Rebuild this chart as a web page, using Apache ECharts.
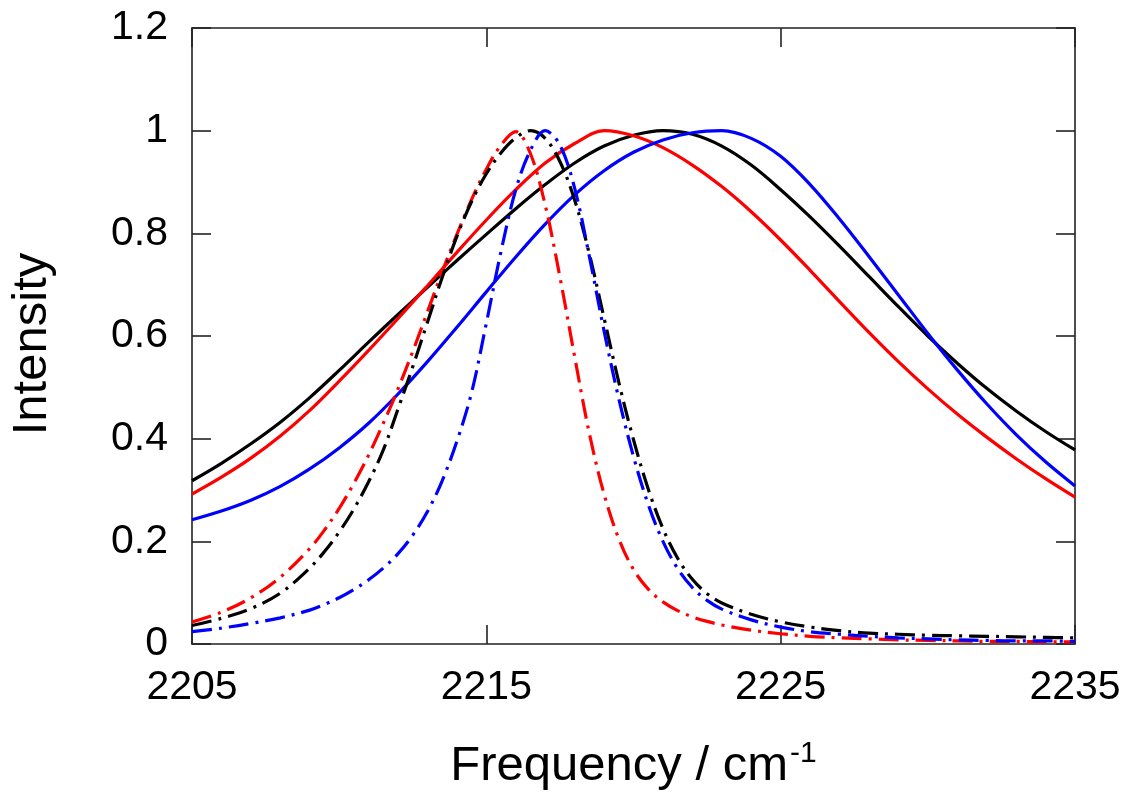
<!DOCTYPE html>
<html>
<head>
<meta charset="utf-8">
<script src="https://cdn.jsdelivr.net/npm/echarts@6/dist/echarts.min.js"></script>
<style>
  html, body { margin: 0; padding: 0; background: #fff; }
  #chart { width: 1133px; height: 792px; }
</style>
</head>
<body>
<div id="chart"></div>
<script>
// frequency grid for the broad (solid) bands
const xSolid = [2205, 2206, 2207, 2208, 2209, 2210, 2211, 2212, 2213, 2214, 2215,
  2216, 2217, 2218, 2219, 2220, 2221, 2222, 2223, 2224, 2225,
  2226, 2227, 2228, 2229, 2230, 2231, 2232, 2233, 2234, 2235]

const blackSolid = [0.318, 0.352, 0.390, 0.432, 0.480, 0.533, 0.588, 0.642, 0.695, 0.747, 0.798,
  0.848, 0.895, 0.937, 0.970, 0.991, 1.000, 0.993, 0.970, 0.933, 0.885,
  0.832, 0.775, 0.716, 0.657, 0.600, 0.547, 0.498, 0.454, 0.414, 0.378]
const redSolid = [0.292, 0.325, 0.362, 0.405, 0.455, 0.512, 0.572, 0.634, 0.698, 0.763, 0.826,
  0.885, 0.937, 0.975, 1.000, 0.990, 0.967, 0.933, 0.891, 0.842, 0.787,
  0.728, 0.667, 0.607, 0.550, 0.497, 0.448, 0.403, 0.361, 0.322, 0.286]
const blueSolid = [0.242, 0.259, 0.280, 0.307, 0.341, 0.382, 0.430, 0.487, 0.550, 0.617, 0.686,
  0.754, 0.818, 0.875, 0.922, 0.958, 0.982, 0.996, 1.000, 0.985, 0.950,
  0.895, 0.828, 0.755, 0.680, 0.605, 0.534, 0.468, 0.408, 0.355, 0.308]

// finer grid for the narrow (dash-dot) bands
const xDash = [2205, 2206, 2207, 2208, 2209, 2209.5, 2210, 2210.5, 2211, 2211.5, 2212, 2212.5,
  2213, 2213.5, 2214, 2214.5, 2215, 2215.5, 2216, 2216.5, 2217, 2217.5, 2218, 2218.5,
  2219, 2219.5, 2220, 2220.5, 2221, 2221.5, 2222, 2222.5, 2223, 2224, 2225, 2226,
  2227, 2228, 2229, 2230, 2231, 2232, 2233, 2234, 2235]

const redDash = [0.043, 0.062, 0.090, 0.130, 0.186, 0.222, 0.264, 0.313, 0.368, 0.430, 0.497, 0.570,
  0.647, 0.725, 0.798, 0.866, 0.925, 0.972, 0.998, 0.955, 0.855, 0.715, 0.560, 0.410,
  0.292, 0.205, 0.145, 0.107, 0.082, 0.065, 0.053, 0.044, 0.037, 0.027, 0.020, 0.015,
  0.012, 0.010, 0.008, 0.007, 0.006, 0.005, 0.005, 0.004, 0.004]
const blackDash = [0.036, 0.050, 0.069, 0.099, 0.148, 0.180, 0.218, 0.263, 0.316, 0.378, 0.458, 0.540,
  0.627, 0.714, 0.794, 0.862, 0.916, 0.957, 0.986, 1.000, 0.985, 0.940, 0.865, 0.760,
  0.635, 0.510, 0.398, 0.302, 0.225, 0.167, 0.126, 0.098, 0.080, 0.058, 0.043, 0.033,
  0.026, 0.021, 0.019, 0.017, 0.016, 0.015, 0.014, 0.013, 0.012]
const blueDash = [0.024, 0.031, 0.040, 0.051, 0.066, 0.077, 0.090, 0.106, 0.125, 0.148, 0.176, 0.212,
  0.258, 0.318, 0.395, 0.490, 0.625, 0.765, 0.885, 0.962, 1.000, 0.972, 0.888, 0.755,
  0.610, 0.478, 0.365, 0.272, 0.200, 0.147, 0.110, 0.085, 0.068, 0.047, 0.033, 0.024,
  0.019, 0.015, 0.012, 0.010, 0.008, 0.007, 0.006, 0.006, 0.005]

const FONT = 'Liberation Sans'
const frameColor = '#222'
const dashDot = [20, 7, 3, 7]

function pairs(xs, ys) {
  return xs.map((x, i) => [x, ys[i]])
}

function line(data, color, dashed) {
  return {
    type: 'line',
    data: data,
    showSymbol: false,
    smooth: 0.35,
    lineStyle: { color: color, width: 3.2, type: dashed ? dashDot : 'solid' },
    itemStyle: { color: color },
    z: dashed ? 3 : 2
  }
}

const chart = echarts.init(document.getElementById('chart'), null, { renderer: 'canvas' })

const xBase = {
  type: 'value',
  min: 2205,
  max: 2235,
  interval: 10,
  splitLine: { show: false },
  axisLine: { show: true, onZero: false, lineStyle: { color: frameColor, width: 1.6 } },
  axisTick: { show: true, inside: true, length: 19, lineStyle: { color: frameColor, width: 1.6 } }
}
const yBase = {
  type: 'value',
  min: 0,
  max: 1.2,
  interval: 0.2,
  splitLine: { show: false },
  axisLine: { show: true, onZero: false, lineStyle: { color: frameColor, width: 1.6 } },
  axisTick: { show: true, inside: true, length: 19, lineStyle: { color: frameColor, width: 1.6 } }
}

chart.setOption({
  animation: false,
  backgroundColor: '#fff',
  grid: { left: 192, top: 28, right: 58, bottom: 148, containLabel: false, outerBoundsMode: 'none' },
  xAxis: [
    Object.assign({}, xBase, {
      position: 'bottom',
      axisLabel: { color: '#000', fontFamily: FONT, fontSize: 41, margin: 23, formatter: v => String(v) },
      name: 'Frequency / cm{sup|-1}',
      nameLocation: 'middle',
      nameGap: 95,
      nameTextStyle: {
        color: '#000', fontFamily: FONT, fontSize: 49,
        rich: { sup: { fontSize: 30, fontFamily: FONT, color: '#000', verticalAlign: 'top', padding: [0, 0, 24, 2] } }
      }
    }),
    Object.assign({}, xBase, { position: 'top', axisLabel: { show: false } })
  ],
  yAxis: [
    Object.assign({}, yBase, {
      position: 'left',
      axisLabel: { color: '#000', fontFamily: FONT, fontSize: 41, margin: 24 },
      name: 'Intensity',
      nameLocation: 'middle',
      nameRotate: 90,
      nameGap: 135,
      nameTextStyle: { color: '#000', fontFamily: FONT, fontSize: 49, padding: [0, 16, 0, 0] }
    }),
    Object.assign({}, yBase, { position: 'right', axisLabel: { show: false } })
  ],
  series: [
    line(pairs(xSolid, blackSolid), '#000000', false),
    line(pairs(xSolid, redSolid), '#ff0000', false),
    line(pairs(xSolid, blueSolid), '#0000ff', false),
    line(pairs(xDash, redDash), '#ff0000', true),
    line(pairs(xDash, blackDash), '#000000', true),
    line(pairs(xDash, blueDash), '#0000ff', true)
  ]
})
</script>
</body>
</html>
